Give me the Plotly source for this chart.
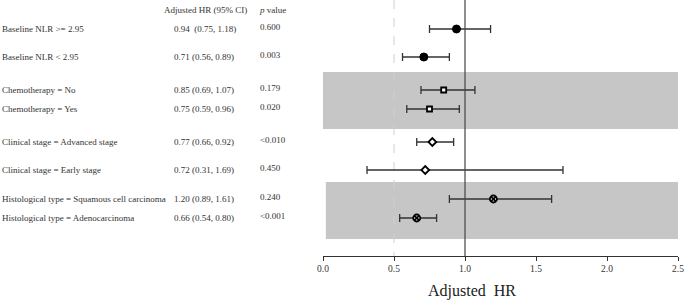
import plotly.graph_objects as go

labels = ["Baseline NLR >= 2.95", "Baseline NLR < 2.95",
          "Chemotherapy = No", "Chemotherapy = Yes",
          "Clinical stage = Advanced stage", "Clinical stage = Early stage",
          "Histological type = Squamous cell carcinoma", "Histological type = Adenocarcinoma"]
hr = [0.94, 0.71, 0.85, 0.75, 0.77, 0.72, 1.20, 0.66]
lo = [0.75, 0.56, 0.69, 0.59, 0.66, 0.31, 0.89, 0.54]
hi = [1.18, 0.89, 1.07, 0.96, 0.92, 1.69, 1.61, 0.80]
hr_text = ["0.94  (0.75, 1.18)", "0.71 (0.56, 0.89)", "0.85 (0.69, 1.07)", "0.75 (0.59, 0.96)",
           "0.77 (0.66, 0.92)", "0.72 (0.31, 1.69)", "1.20 (0.89, 1.61)", "0.66 (0.54, 0.80)"]
p_text = ["0.600", "0.003", "0.179", "0.020", "<0.010", "0.450", "0.240", "<0.001"]
groups = [0, 0, 1, 1, 2, 2, 3, 3]
x_ticks = [0.0, 0.5, 1.0, 1.5, 2.0, 2.5]

# layout (pixel rows from the top of the plot area)
row_y = [29, 57, 90, 109, 142, 170, 199, 218]
W, H = 685, 301
PLOT_L, PLOT_R, PLOT_B = 323, 678, 256
FONT = "Liberation Serif, Times New Roman, serif"

marker_styles = [
    dict(symbol="circle", size=8, color="black", line=dict(color="black", width=1)),
    dict(symbol="square", size=5, color="white", line=dict(color="black", width=1.8)),
    dict(symbol="diamond", size=6, color="white", line=dict(color="black", width=1.8)),
    dict(symbol="circle-x", size=7, color="white", line=dict(color="black", width=1.8)),
]

fig = go.Figure()

# shaded bands
fig.add_shape(type="rect", xref="x", yref="y", x0=0.0, x1=2.5, y0=72, y1=129,
              fillcolor="#c6c6c6", line=dict(width=0), layer="below")
fig.add_shape(type="rect", xref="x", yref="y", x0=0.02, x1=2.52, y0=182, y1=239,
              fillcolor="#c6c6c6", line=dict(width=0), layer="below")
# reference lines
fig.add_shape(type="line", xref="x", yref="y", x0=0.5, x1=0.5, y0=0, y1=256,
              line=dict(color="#d0d0d0", width=1, dash="dash"), layer="below")
fig.add_shape(type="line", xref="x", yref="y", x0=1.0, x1=1.0, y0=0, y1=256,
              line=dict(color="#444444", width=1.2))

for g in range(4):
    idx = [i for i in range(len(hr)) if groups[i] == g]
    fig.add_trace(go.Scatter(
        x=[hr[i] for i in idx], y=[row_y[i] for i in idx], mode="markers",
        marker=marker_styles[g],
        error_x=dict(type="data", symmetric=False,
                     array=[hi[i] - hr[i] for i in idx],
                     arrayminus=[hr[i] - lo[i] for i in idx],
                     color="#333333", thickness=1.3, width=4),
        showlegend=False, hoverinfo="skip"))

tf = dict(family=FONT, size=9, color="#333333")
ann = []
ann.append(dict(x=162, y=10, xref="x2", yref="y", text="Adjusted HR (95% CI)",
                showarrow=False, xanchor="left", yanchor="middle", font=tf))
ann.append(dict(x=257, y=10, xref="x2", yref="y", text="<i>p</i> value",
                showarrow=False, xanchor="left", yanchor="middle", font=tf))
for i in range(len(labels)):
    ann.append(dict(x=0, y=row_y[i], xref="x2", yref="y", text=labels[i],
                    showarrow=False, xanchor="left", yanchor="middle", font=tf))
    ann.append(dict(x=172, y=row_y[i], xref="x2", yref="y", text=hr_text[i],
                    showarrow=False, xanchor="left", yanchor="middle", font=tf))
    ann.append(dict(x=258, y=row_y[i] - 2, xref="x2", yref="y", text=p_text[i],
                    showarrow=False, xanchor="left", yanchor="middle", font=tf))
ann.append(dict(x=1.05, y=-(291 - PLOT_B) / PLOT_B, xref="x", yref="paper", text="Adjusted  HR",
                showarrow=False, xanchor="center", yanchor="middle",
                font=dict(family=FONT, size=16, color="#222222")))

fig.update_layout(
    width=W, height=H,
    margin=dict(l=0, r=W - PLOT_R, t=0, b=H - PLOT_B, autoexpand=False),
    paper_bgcolor="white", plot_bgcolor="white",
    xaxis=dict(domain=[PLOT_L / PLOT_R, 1], range=[0, 2.5],
               tickvals=x_ticks, ticktext=[f"{v:.1f}" for v in x_ticks],
               showgrid=False, zeroline=False, showline=True, linecolor="#333333",
               linewidth=1, ticks="outside", ticklen=4, tickcolor="#333333",
               automargin=False,
               tickfont=dict(family=FONT, size=9.5, color="#333333")),
    xaxis2=dict(domain=[0, PLOT_L / PLOT_R], range=[0, PLOT_L], visible=False,
                anchor="y", automargin=False),
    yaxis=dict(range=[PLOT_B, 0], visible=False, domain=[0, 1], automargin=False),
    annotations=ann,
)
fig.add_trace(go.Scatter(x=[None], y=[None], xaxis="x2", yaxis="y", showlegend=False))

fig.write_html("out.html", config={"displayModeBar": False},
               post_script="document.body.style.margin='0px';document.body.style.overflow='hidden';")
